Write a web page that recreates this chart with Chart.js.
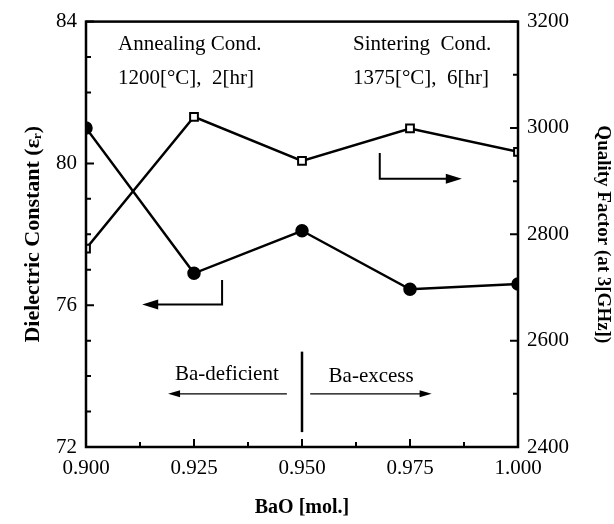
<!DOCTYPE html>
<html>
<head>
<meta charset="utf-8">
<script src="https://cdn.jsdelivr.net/npm/chart.js@4/dist/chart.umd.min.js"></script>
<style>
  body { margin: 0; background: #fff; }
  #wrap { width: 614px; height: 524px; }
</style>
</head>
<body>
<div id="wrap"><canvas id="graf" width="614" height="524"></canvas></div>
<script>
// dados
var baO = [0.900, 0.925, 0.950, 0.975, 1.000];
var dielectric = [81.0, 76.9, 78.1, 76.45, 76.6];
var quality = [2773, 3021, 2938, 2999, 2955];
var xTicks = [0.900, 0.925, 0.950, 0.975, 1.000];
var leftTicks = [72, 76, 80, 84];
var rightTicks = [2400, 2600, 2800, 3000, 3200];

var serif = '"Liberation Serif", "Times New Roman", serif';

// textos e setas de anotação (unidades dos eixos x / y esquerdo)
var notes = [
  { text: 'Annealing Cond.', x: 0.9074, y: 83.36, align: 'left' },
  { text: '1200[\u00B0C],  2[hr]', x: 0.9074, y: 82.39, align: 'left' },
  { text: 'Sintering  Cond.', x: 0.9618, y: 83.36, align: 'left' },
  { text: '1375[\u00B0C],  6[hr]', x: 0.9618, y: 82.39, align: 'left' },
  { text: 'Ba-deficient', x: 0.9326, y: 74.05, align: 'center' },
  { text: 'Ba-excess', x: 0.9660, y: 74.0, align: 'center' }
];

function pts(data) {
  return baO.map(function (x, i) { return { x: x, y: data[i] }; });
}

function arrowHead(ctx, x, y, dir, len, half) {
  ctx.beginPath();
  ctx.moveTo(x, y);
  ctx.lineTo(x - dir * len, y - half);
  ctx.lineTo(x - dir * len, y + half);
  ctx.closePath();
  ctx.fill();
}

var extras = {
  id: 'extras',
  beforeDraw: function (chart) {
    var c = chart.ctx;
    c.save();
    c.fillStyle = '#fff';
    c.fillRect(0, 0, chart.width, chart.height);
    c.restore();
  },
  afterDraw: function (chart) {
    var c = chart.ctx, a = chart.chartArea;
    var sx = chart.scales.x, sy = chart.scales.y, sy1 = chart.scales.y1;
    c.save();
    c.strokeStyle = '#000';
    c.fillStyle = '#000';
    c.lineWidth = 2.5;
    c.strokeRect(a.left, a.top, a.right - a.left, a.bottom - a.top);

    // ticks para dentro
    c.lineWidth = 2;
    c.beginPath();
    for (var v = 72; v <= 84; v++) {
      var py = sy.getPixelForValue(v);
      var l = (v % 4 === 0) ? 8 : 5;
      c.moveTo(a.left, py); c.lineTo(a.left + l, py);
    }
    for (var q = 2400; q <= 3200; q += 100) {
      var qy = sy1.getPixelForValue(q);
      var lq = (q % 200 === 0) ? 8 : 5;
      c.moveTo(a.right, qy); c.lineTo(a.right - lq, qy);
    }
    for (var k = 0; k <= 8; k++) {
      var xv = 0.9 + k * 0.0125;
      var px = sx.getPixelForValue(xv);
      var lx = (k % 2 === 0) ? 8 : 5;
      c.moveTo(px, a.bottom); c.lineTo(px, a.bottom - lx);
    }
    c.stroke();

    // setas indicando o eixo
    c.lineWidth = 2;
    var ax = sx.getPixelForValue(0.9315), ay1 = sy.getPixelForValue(76.71), ay2 = sy.getPixelForValue(76.02);
    var ahead = sx.getPixelForValue(0.913);
    c.beginPath();
    c.moveTo(ax, ay1); c.lineTo(ax, ay2); c.lineTo(ahead + 14, ay2);
    c.stroke();
    arrowHead(c, ahead, ay2, -1, 16, 5);

    var bx = sx.getPixelForValue(0.968), by1 = sy.getPixelForValue(80.29), by2 = sy.getPixelForValue(79.57);
    var bhead = sx.getPixelForValue(0.987);
    c.beginPath();
    c.moveTo(bx, by1); c.lineTo(bx, by2); c.lineTo(bhead - 14, by2);
    c.stroke();
    arrowHead(c, bhead, by2, 1, 16, 5);

    // divisão Ba-deficient / Ba-excess
    c.lineWidth = 2.5;
    var mx = sx.getPixelForValue(0.95);
    c.beginPath();
    c.moveTo(mx, sy.getPixelForValue(74.69)); c.lineTo(mx, sy.getPixelForValue(72.42));
    c.stroke();
    c.lineWidth = 1.2;
    var ly = sy.getPixelForValue(73.5);
    c.beginPath();
    c.moveTo(sx.getPixelForValue(0.9465), ly); c.lineTo(sx.getPixelForValue(0.919) + 10, ly);
    c.moveTo(sx.getPixelForValue(0.9519), ly); c.lineTo(sx.getPixelForValue(0.980) - 10, ly);
    c.stroke();
    arrowHead(c, sx.getPixelForValue(0.919), ly, -1, 12, 3.5);
    arrowHead(c, sx.getPixelForValue(0.980), ly, 1, 12, 3.5);

    c.font = '21px ' + serif;
    c.textBaseline = 'middle';
    notes.forEach(function (n) {
      c.textAlign = n.align;
      c.fillText(n.text, sx.getPixelForValue(n.x), sy.getPixelForValue(n.y));
    });
    c.restore();
  }
};

var chartGraph = new Chart(document.getElementById('graf'), {
  type: 'scatter',
  data: {
    datasets: [{
      label: 'Quality Factor',
      data: pts(quality),
      yAxisID: 'y1',
      showLine: true,
      borderColor: '#000',
      borderWidth: 2.5,
      pointStyle: 'rect',
      pointRadius: 5.5,
      pointBorderWidth: 2,
      pointBackgroundColor: '#fff',
      pointBorderColor: '#000'
    }, {
      label: 'Dielectric Constant',
      data: pts(dielectric),
      yAxisID: 'y',
      showLine: true,
      borderColor: '#000',
      borderWidth: 2.5,
      pointStyle: 'circle',
      pointRadius: 5.5,
      pointBackgroundColor: '#000',
      pointBorderColor: '#000'
    }]
  },
  options: {
    responsive: false,
    animation: false,
    layout: { padding: { top: 14 } },
    plugins: { legend: { display: false }, tooltip: { enabled: false } },
    scales: {
      x: {
        type: 'linear', min: 0.9, max: 1.0,
        afterBuildTicks: function (s) { s.ticks = xTicks.map(function (v) { return { value: v }; }); },
        afterFit: function (s) { s.height = 77; },
        grid: { display: false, drawTicks: false },
        border: { display: false },
        ticks: { color: '#000', padding: 9, maxRotation: 0, font: { family: serif, size: 21 },
                 callback: function (v) { return v.toFixed(3); } },
        title: { display: true, text: 'BaO [mol.]', color: '#000', padding: { top: 8 },
                 font: { family: serif, size: 20, weight: 'bold' } }
      },
      y: {
        position: 'left', min: 72, max: 84,
        afterBuildTicks: function (s) { s.ticks = leftTicks.map(function (v) { return { value: v }; }); },
        afterFit: function (s) { s.width = 86; },
        grid: { display: false, drawTicks: false },
        border: { display: false },
        ticks: { color: '#000', padding: 9, font: { family: serif, size: 21 } },
        title: { display: true, text: 'Dielectric Constant (\u03B5\u1D63)', color: '#000', padding: { top: 20, bottom: 4 },
                 font: { family: serif, size: 22, weight: 'bold' } }
      },
      y1: {
        position: 'right', min: 2400, max: 3200,
        afterBuildTicks: function (s) { s.ticks = rightTicks.map(function (v) { return { value: v }; }); },
        afterFit: function (s) { s.width = 96; },
        grid: { display: false, drawTicks: false },
        border: { display: false },
        ticks: { color: '#000', padding: 9, font: { family: serif, size: 21 },
                 callback: function (v) { return String(v); } },
        title: { display: true, text: 'Quality Factor (at 3[GHz])', color: '#000', padding: { top: 0, bottom: 2 },
                 font: { family: serif, size: 19, weight: 'bold' } }
      }
    }
  },
  plugins: [extras]
});
</script>
</body>
</html>
